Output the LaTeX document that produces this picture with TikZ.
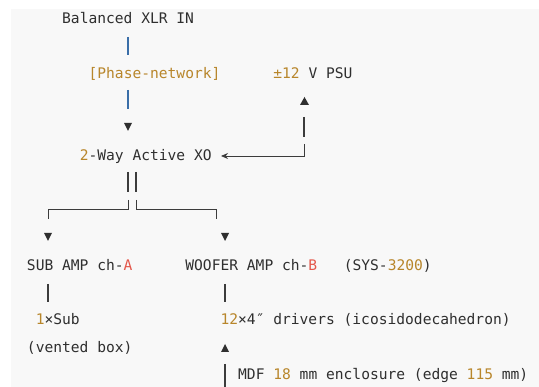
\documentclass[tikz,border=0pt]{standalone}
\usepackage{fontspec}
\setmonofont{DejaVu Sans Mono}
\usetikzlibrary{arrows.meta}
\definecolor{bg}{HTML}{F8F8F8}
\definecolor{ink}{HTML}{2F2F2F}
\definecolor{gold}{HTML}{B8862B}
\definecolor{redc}{HTML}{E4574B}
\definecolor{barblue}{HTML}{3A6EA8}
\definecolor{linec}{HTML}{3C3C3C}
\newcommand\gd[1]{\textcolor{gold}{#1}}
\newcommand\rd[1]{\textcolor{redc}{#1}}
\begin{document}
\begin{tikzpicture}[x=1pt,y=-1pt,
  txt/.style={anchor=base west,inner sep=0pt,outer sep=0pt,
    font=\ttfamily\fontsize{14.6}{17}\selectfont,text=ink},
  vbar/.style={draw=linec,line width=1.1pt},
  bluebar/.style={draw=barblue,line width=1.1pt},
  conn/.style={draw=linec,line width=0.9pt},
  tridown/.style={fill=ink},
  triup/.style={fill=ink}]
\useasboundingbox (0,0) rectangle (539,387);
\fill[bg] (11,9) rectangle (539,387);

% text nodes
\node[txt] (bal) at (62.2,23.3) {Balanced XLR IN};
\node[txt] (phase) at (88.6,78.1) {\gd{[Phase-network]}};
\node[txt] (psu) at (273.4,78.1) {\gd{±12} V PSU};
\node[txt] (xo) at (79.8,160.3) {\gd{2}-Way Active XO};
\node[txt] (sub) at (27,270.2) {SUB AMP ch-\rd{A}};
\node[txt] (woof) at (185.4,270.2) {WOOFER AMP ch-\rd{B}};
\node[txt] (sys) at (343.8,270.2) {(SYS-\gd{3200})};
\node[txt] (subdrv) at (35.8,325) {\gd{1}×Sub};
\node[txt] (drv) at (220.6,325) {\gd{12}×4″ drivers (icosidodecahedron)};
\node[txt] (vent) at (27,352.4) {(vented box)};
\node[txt] (mdf) at (238.2,379.8) {MDF \gd{18} mm enclosure (edge \gd{115} mm)};

% input chain bars
\coordinate (c1t) at (128,37); \coordinate (c1b) at (128,55);
\draw[bluebar] (c1t) -- (c1b);
\coordinate (c2t) at (128,90); \coordinate (c2b) at (128,109);
\draw[bluebar] (c2t) -- (c2b);
\coordinate (t1) at (128,127);
\fill[tridown] ([shift={(-4,-4)}]t1) -- ([shift={(4,-4)}]t1) -- ([shift={(0,4)}]t1) -- cycle;

% PSU feed
\coordinate (t2) at (304.5,101);
\fill[triup] ([shift={(-4.5,4)}]t2) -- ([shift={(4.5,4)}]t2) -- ([shift={(0,-4)}]t2) -- cycle;
\coordinate (p1t) at (304,117); \coordinate (p1b) at (304,137);
\draw[vbar] (p1t) -- (p1b);
\coordinate (p2t) at (304,144); \coordinate (xoin) at (221,156);
\draw[conn,-{Stealth[length=7pt,width=6pt]}] (p2t) |- (xoin);

% splitter
\coordinate (s1t) at (128,172); \coordinate (s1b) at (128,192);
\coordinate (s2t) at (136,172); \coordinate (s2b) at (136,192);
\draw[vbar] (s1t) -- (s1b);
\draw[vbar] (s2t) -- (s2b);
\coordinate (l1) at (128,200); \coordinate (l2) at (48,219);
\draw[conn] (l1) |- (48,209) -- (l2);
\coordinate (r1) at (136,200); \coordinate (r2) at (216,219);
\draw[conn] (r1) |- (216,209) -- (r2);
\coordinate (t3) at (48,237);
\fill[tridown] ([shift={(-4,-4)}]t3) -- ([shift={(4,-4)}]t3) -- ([shift={(0,4)}]t3) -- cycle;
\coordinate (t4) at (225,237);
\fill[tridown] ([shift={(-4,-4)}]t4) -- ([shift={(4,-4)}]t4) -- ([shift={(0,4)}]t4) -- cycle;

% amp outputs
\coordinate (a1t) at (48,284); \coordinate (a1b) at (48,302);
\draw[vbar] (a1t) -- (a1b);
\coordinate (a2t) at (225,284); \coordinate (a2b) at (225,302);
\draw[vbar] (a2t) -- (a2b);

% enclosure
\coordinate (t5) at (225,348);
\fill[triup] ([shift={(-4,4)}]t5) -- ([shift={(4,4)}]t5) -- ([shift={(0,-4)}]t5) -- cycle;
\coordinate (e1t) at (225,364); \coordinate (e1b) at (225,387);
\draw[vbar] (e1t) -- (e1b);
\end{tikzpicture}
\end{document}
